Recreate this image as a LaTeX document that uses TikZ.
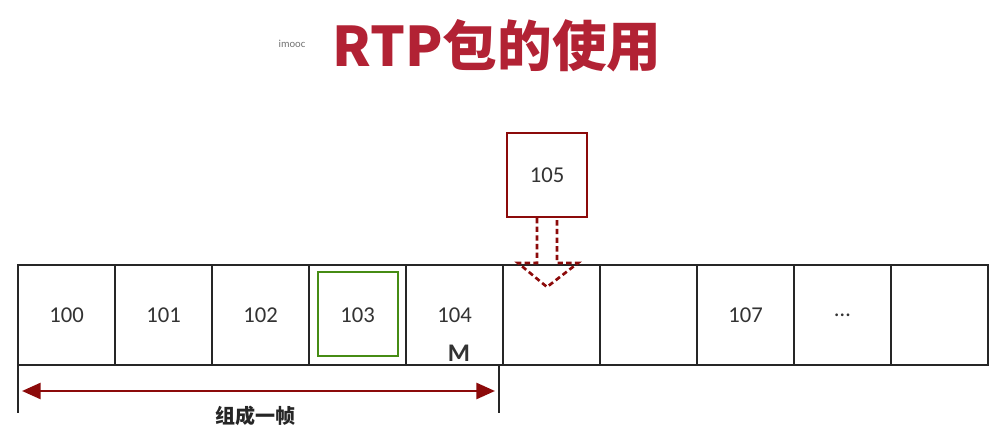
\documentclass[tikz,border=0pt]{standalone}
\usepackage{fontspec}
\setmainfont{Carlito}
\newfontfamily\cjk{Noto Sans CJK SC}
\usetikzlibrary{arrows.meta}
\definecolor{rtpred}{RGB}{178,34,52}
\definecolor{darkred}{RGB}{140,10,10}
\definecolor{boxgreen}{RGB}{70,140,20}
\begin{document}
\begin{tikzpicture}[x=0.75pt,y=0.75pt,yscale=-1,xscale=1,
  cell/.style={draw=black!85,line width=1.5pt,minimum width=72.75pt,minimum height=75pt,inner sep=0pt,font=\fontsize{17}{19}\selectfont,text=black!80},
  spanline/.style={draw=black!85,line width=1.5pt}]
\useasboundingbox (0,0) rectangle (1000,445);

\node (title) at (497,46) [text=rtpred,font=\cjk\bfseries\fontsize{41}{46}\selectfont] {RTP包的使用};
\node (logo) at (292,44) [text=black!55,font=\fontsize{8}{9}\selectfont] {imooc};

% packet row
\foreach \lab [count=\i from 0] in {100,101,102,103,104,{},{},107,{\ldots},{}} {
  \node[cell] (c\i) at (66.5+97*\i,315) {\lab};
}
\node (sel) at (358,314) [draw=boxgreen,line width=1.5pt,minimum width=60pt,minimum height=63pt] {};
\node (mk) at (459,353) [font=\bfseries\fontsize{19}{20}\selectfont,text=black!80] {M};

% new packet
\node (p105) at (547,175) [draw=darkred,line width=1.5pt,minimum width=60pt,minimum height=63pt,font=\fontsize{17}{19}\selectfont,text=black!80] {105};
\draw [darkred,line width=2pt,dash pattern=on 4pt off 2.5pt] (537,218) -- (537,263) -- (518,263) -- (547,287) -- (578,263) -- (557,263) -- (557,218);

% frame span
\coordinate (ls) at (18,365);
\coordinate (le) at (18,413);
\coordinate (rs) at (499,365);
\coordinate (re) at (499,413);
\draw [spanline] (ls) -- (le);
\draw [spanline] (rs) -- (re);
\draw [darkred,line width=2pt,{Triangle[length=14pt,width=12pt]}-{Triangle[length=14pt,width=12pt]}] (22,391) -- (495,391);
\node (frame) at (255,416) [font=\cjk\bfseries\fontsize{15}{17}\selectfont,text=black!85] {组成一帧};

\end{tikzpicture}
\end{document}
